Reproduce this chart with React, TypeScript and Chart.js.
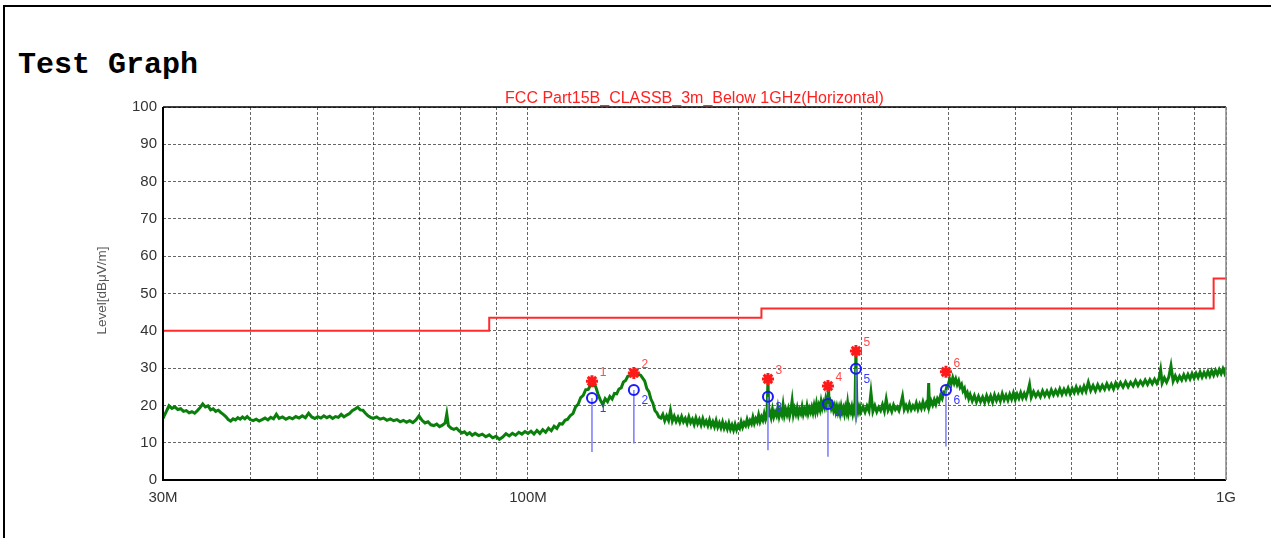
import React, { useEffect, useRef } from "react";
import { Chart, registerables } from "chart.js";

Chart.register(...registerables);

const pageTitle = "Test Graph";
const chartTitle = "FCC Part15B_CLASSB_3m_Below 1GHz(Horizontal)";
const yAxisTitle = "Level[dBμV/m]";

const gridFreqs = [30, 40, 50, 60, 70, 80, 90, 100, 200, 300, 400, 500, 600, 700, 800, 900, 1000];
const xLabelValues = [30, 100, 1000];
const xLabelTexts = ["30M", "100M", "1G"];

const limitFreq = [30, 88, 88, 216, 216, 960, 960, 1000];
const limitLevel = [40, 40, 43.5, 43.5, 46, 46, 54, 54];

const traceLow: [number, number][] = [
  [30, 16.5], [30.3, 18.2], [30.6, 19.9], [30.9, 19.2], [31.2, 19.6], [31.5, 18.9], [31.8, 19.1], [32.1, 18.4],
  [32.4, 18.6], [32.7, 18.0], [33, 18.3], [33.3, 17.9], [33.6, 18.6], [33.9, 19.4], [34.2, 20.4], [34.5, 19.6],
  [34.8, 19.9], [35.1, 18.8], [35.4, 19.1], [35.7, 18.4], [36, 18.7], [36.3, 18.1], [36.6, 17.6], [36.9, 17.0],
  [37.2, 16.2], [37.5, 15.8], [37.8, 16.4], [38.1, 16.1], [38.4, 16.7], [38.7, 16.3], [39, 16.9], [39.3, 16.4],
  [39.6, 17.0], [40, 16.2], [40.4, 15.9], [40.8, 16.3], [41.2, 15.8], [41.6, 16.2], [42, 16.6], [42.4, 16.1],
  [42.8, 16.8], [43.2, 16.4], [43.6, 17.6], [44, 16.5], [44.5, 16.9], [45, 16.3], [45.5, 16.8], [46, 16.4],
  [46.5, 17.0], [47, 16.6], [47.5, 17.2], [48, 16.7], [48.5, 17.9], [49, 16.9], [49.5, 16.5], [50, 17.0],
  [50.5, 16.6], [51, 17.2], [51.5, 16.7], [52, 17.1], [52.5, 16.5], [53, 17.0], [53.5, 16.8], [54, 17.6],
  [54.5, 16.9], [55, 17.4], [55.5, 17.8], [56, 18.6], [56.5, 19.0], [57, 19.5], [57.5, 18.8], [58, 18.7],
  [58.5, 17.9], [59, 17.2], [59.5, 16.8], [60, 16.5], [60.7, 16.9], [61.4, 16.3], [62.1, 16.6], [62.8, 16.0],
  [63.5, 16.4], [64.2, 15.9], [64.9, 16.2], [65.6, 15.6], [66.3, 16.0], [67, 15.5], [67.7, 15.9], [68.4, 15.4],
  [69.1, 16.1], [69.8, 17.2], [70.5, 16.0], [71.2, 15.3], [71.9, 15.6], [72.6, 14.8], [73.3, 14.6], [74, 15.0],
  [74.7, 14.3], [75.4, 14.7], [76.1, 15.3], [76.5, 17.7], [76.9, 14.6], [77.6, 13.9], [78.3, 13.6], [79, 13.9],
  [79.7, 13.2], [80.4, 12.6], [81.1, 12.9], [81.8, 12.2], [82.5, 12.7], [83.2, 12.0], [84, 12.5], [85, 11.9],
  [86, 12.3], [87, 11.6], [88, 12.1], [89, 11.3], [90, 11.7], [91, 10.9], [92, 11.5], [93, 12.4],
  [94, 11.8], [95, 12.5], [96, 12.0], [97, 12.8], [98, 12.3], [99, 13.0], [100, 12.5],
];

const traceMid: [number, number][] = [
  [101, 13.1], [102, 12.3], [103, 13.3], [104, 12.5], [105, 13.5], [106, 12.8], [107, 13.9], [108, 13.2],
  [109, 14.4], [110, 13.8], [111, 15.1], [112, 15.0], [113, 16.0], [114, 16.3], [115, 17.3], [116, 17.8],
  [117, 19.6], [118, 20.3], [119, 22.1], [120, 22.7], [121, 24.2], [122, 24.3], [123, 25.6], [124, 25.5],
  [125, 25.1], [126, 23.0], [127, 21.4], [128, 20.2], [129, 21.8], [130, 21.0], [131, 22.4], [132, 21.7],
  [133, 23.2], [134, 23.1], [135, 24.4], [136, 24.7], [137, 26.3], [138, 26.7], [139, 27.8], [140, 28.0],
  [141, 28.3], [142, 28.5], [143, 28.4], [144, 28.3], [145, 28.1], [146, 27.3], [147, 26.5], [148, 24.5],
  [149, 23.7], [150, 21.7], [151, 20.6], [152, 18.6], [153, 18.0], [154, 16.9], [155, 16.6], [156, 17.6],
  [157, 15.9], [158, 17.2], [159, 16.0], [160, 18.6], [161, 15.8], [162, 17.1], [163, 15.7], [164, 16.8],
  [165, 15.5], [166, 17.0], [167, 15.6], [168, 16.5], [169, 15.2], [170, 16.9], [171, 15.4], [172, 16.3],
  [173, 14.9], [174, 16.6], [175, 15.1], [176, 16.2], [177, 14.8], [178, 16.4], [179, 14.9], [180, 15.8],
  [181, 14.6], [182, 16.1], [183, 14.5], [184, 15.6], [185, 14.3], [186, 15.9], [187, 14.2], [188, 15.3],
  [189, 14.0], [190, 15.5], [191, 13.9], [192, 15.0], [193, 13.7], [194, 15.2], [195, 13.6], [196, 14.7],
  [197, 13.4], [198, 14.9], [199, 13.5], [200, 14.6], [201, 13.9], [202, 15.6], [203, 14.2], [204, 15.3],
  [205, 14.6], [206, 16.2], [207, 14.8], [208, 15.9], [209, 15.1], [210, 16.8], [211, 15.2], [212, 16.4],
  [213, 15.6], [214, 17.4], [215, 15.7], [216, 16.9], [217, 16.0], [218, 17.8], [219, 16.2], [220, 17.3],
  [220.7, 27.0], [221.4, 16.9], [222, 18.3], [223, 16.8], [224, 18.9], [225, 17.0], [226, 18.2], [227, 17.3],
  [228, 19.4], [229, 17.1], [230, 18.6], [231, 17.5], [232, 20.1], [233, 17.4], [234, 18.9], [235, 17.6],
  [236, 19.0], [237, 17.2], [238, 18.7], [239, 21.2], [240, 17.6], [241, 19.1], [242, 17.8], [243, 19.3],
  [244, 17.5], [245, 18.8], [246, 17.9], [247, 19.6], [248, 17.7], [249, 18.9], [250, 18.0], [251, 19.8],
  [252, 17.9], [253, 19.2], [254, 18.2], [255, 19.5], [256, 18.1], [257, 19.9], [258, 18.4], [259, 20.4],
  [260, 18.6], [261, 20.0], [262, 18.9], [263, 21.0], [264, 19.4], [265, 20.7], [266, 19.6], [267, 21.6],
  [268, 20.1], [269, 21.8], [269.5, 25.2], [270, 20.3], [271, 21.0], [272, 19.3], [273, 20.2], [274, 18.7],
  [275, 19.8], [276, 18.3], [277, 19.6], [278, 18.2], [279, 19.4], [280, 17.9], [281, 19.7], [282, 18.2],
  [283, 19.2], [284, 17.8], [285, 19.5], [286, 18.3], [287, 20.6], [288, 18.1], [289, 19.4], [290, 18.4],
  [291, 19.6], [292, 17.9], [293, 19.3], [294, 18.2], [295, 34.6], [296, 18.3], [297, 19.7], [298, 18.4],
  [299, 19.5], [300, 18.3],
];

const traceHigh: [number, number][] = [
  [302, 19.6], [304, 18.2], [306, 19.8], [308, 18.5], [310, 23.4], [312, 18.4], [314, 19.9], [316, 18.3],
  [318, 19.5], [320, 18.6], [322, 20.2], [324, 18.5], [326, 21.6], [328, 18.7], [330, 19.8], [332, 18.4],
  [334, 20.1], [336, 18.9], [338, 19.6], [340, 18.6], [342, 20.3], [344, 22.4], [346, 18.9], [348, 20.0],
  [350, 18.8], [352, 20.4], [354, 18.9], [356, 19.9], [358, 19.1], [360, 20.6], [362, 19.0], [364, 20.3],
  [366, 19.2], [368, 20.9], [370, 19.4], [372, 20.6], [374, 19.6], [375, 26.0], [376, 19.8], [378, 21.2],
  [380, 20.1], [382, 21.5], [384, 20.3], [386, 21.8], [388, 21.0], [390, 22.6], [392, 21.8], [394, 23.5],
  [396, 23.2], [398, 25.0], [400, 25.6], [402, 27.0], [404, 25.8], [406, 27.4], [408, 26.0], [410, 27.1],
  [412, 25.6], [414, 26.6], [416, 24.9], [418, 25.6], [420, 23.9], [422, 24.6], [424, 22.6], [426, 23.4],
  [428, 21.8], [430, 22.9], [433, 21.2], [436, 22.6], [439, 20.9], [442, 22.4], [445, 21.0], [448, 22.2],
  [451, 20.8], [454, 22.6], [457, 21.1], [460, 22.5], [463, 20.9], [466, 22.8], [469, 21.3], [472, 22.6],
  [475, 21.2], [478, 23.1], [481, 21.5], [484, 22.7], [487, 21.4], [490, 23.0], [493, 21.7], [496, 23.3],
  [499, 21.6], [502, 23.0], [505, 21.9], [508, 23.4], [511, 22.0], [514, 23.2], [517, 22.1], [520, 23.6],
  [523, 25.6], [526, 22.2], [530, 23.7], [534, 22.4], [538, 23.5], [542, 22.3], [546, 23.9], [550, 22.6],
  [554, 23.8], [558, 22.5], [562, 24.1], [566, 22.8], [570, 24.0], [574, 22.9], [578, 24.4], [582, 23.0],
  [586, 24.3], [590, 23.2], [594, 24.6], [598, 23.1], [602, 24.5], [606, 23.4], [610, 24.9], [614, 23.5],
  [618, 24.7], [622, 23.6], [626, 25.1], [630, 23.8], [635, 26.2], [640, 24.0], [645, 25.3], [650, 23.9],
  [655, 25.5], [660, 24.2], [665, 25.4], [670, 24.3], [675, 25.8], [680, 24.5], [685, 25.7], [690, 24.4],
  [695, 26.0], [700, 24.8], [706, 26.1], [712, 24.9], [718, 26.3], [724, 25.0], [730, 26.2], [736, 25.2],
  [742, 26.6], [748, 25.3], [754, 26.5], [760, 25.5], [766, 26.8], [772, 25.6], [778, 26.9], [784, 25.8],
  [790, 27.0], [796, 25.9], [802, 27.3], [806, 29.5], [810, 26.0], [816, 27.4], [822, 26.2], [828, 27.6],
  [834, 30.6], [840, 26.5], [846, 27.9], [852, 26.6], [858, 27.8], [864, 26.8], [870, 28.2], [876, 27.0],
  [882, 28.3], [888, 27.1], [894, 28.5], [900, 27.3], [906, 28.6], [912, 27.5], [918, 28.9], [924, 27.6],
  [930, 28.8], [936, 27.8], [942, 29.1], [948, 27.9], [954, 29.3], [960, 28.1], [966, 29.4], [972, 28.3],
  [978, 29.6], [984, 28.5], [990, 29.8], [995, 28.7], [1000, 30.2],
];

const markerIds = ["1", "2", "3", "4", "5", "6"];
const markerFreq = [123.5, 141.8, 220.7, 269.0, 295.0, 397.0];
const peakLevel = [26.5, 28.7, 27.1, 25.2, 34.6, 29.0];
const qpLevel = [22.0, 24.1, 22.3, 20.4, 29.8, 24.1];
const stemBottom = [7.5, 9.8, 8.0, 6.2, 15.5, 9.0];

const SANS = "'Liberation Sans', Arial, sans-serif";

const overlayPlugin = {
  id: "overlay",
  afterDraw(chart: any) {
    const { ctx, chartArea: a, scales } = chart;
    ctx.save();
    ctx.setLineDash([]);
    ctx.strokeStyle = "#000";
    ctx.lineWidth = 2;
    ctx.beginPath();
    ctx.moveTo(a.left, a.top);
    ctx.lineTo(a.left, a.bottom);
    ctx.lineTo(a.right, a.bottom);
    ctx.stroke();
    ctx.lineWidth = 1.5;
    ctx.beginPath();
    ctx.moveTo(a.left, a.top);
    ctx.lineTo(a.right, a.top);
    ctx.stroke();
    ctx.strokeStyle = "#8a8a8a";
    ctx.beginPath();
    ctx.moveTo(a.right, a.top);
    ctx.lineTo(a.right, a.bottom);
    ctx.stroke();

    ctx.fillStyle = "#ff2020";
    ctx.font = `16px ${SANS}`;
    ctx.textAlign = "center";
    ctx.textBaseline = "alphabetic";
    ctx.fillText(chartTitle, (a.left + a.right) / 2, a.top - 4);

    ctx.save();
    ctx.translate(102, (a.top + a.bottom) / 2 - 3);
    ctx.rotate(-Math.PI / 2);
    ctx.fillStyle = "#555";
    ctx.font = `13.5px ${SANS}`;
    ctx.textAlign = "center";
    ctx.textBaseline = "middle";
    ctx.fillText(yAxisTitle, 0, 0);
    ctx.restore();

    ctx.font = `12px ${SANS}`;
    ctx.textAlign = "center";
    ctx.textBaseline = "middle";
    for (let i = 0; i < markerIds.length; i++) {
      const x = scales.x.getPixelForValue(markerFreq[i]);
      const yp = scales.y.getPixelForValue(peakLevel[i]);
      const yq = scales.y.getPixelForValue(qpLevel[i]);
      ctx.fillStyle = "#ff4a4a";
      ctx.fillText(markerIds[i], x + 11, yp - 8);
      ctx.fillStyle = "#3a3aff";
      ctx.fillText(markerIds[i], x + 11, yq + 11);
    }
    ctx.restore();
  },
};

export default function App() {
  const canvasRef = useRef<HTMLCanvasElement | null>(null);

  useEffect(() => {
    const canvas = canvasRef.current;
    if (!canvas) return;

    const trace = [...traceLow, ...traceMid, ...traceHigh].map(([x, y]) => ({ x, y }));
    const limit = limitFreq.map((f, i) => ({ x: f, y: limitLevel[i] }));
    const stems: any[] = [];
    markerFreq.forEach((f, i) => {
      stems.push({ x: f, y: stemBottom[i] });
      stems.push({ x: f, y: qpLevel[i] });
      stems.push({ x: f, y: null });
    });
    const qp = markerFreq.map((f, i) => ({ x: f, y: qpLevel[i] }));
    const pk = markerFreq.map((f, i) => ({ x: f, y: peakLevel[i] }));

    const gridColor = "rgba(0,0,0,0.6)";

    const chart = new Chart(canvas, {
      type: "line",
      data: {
        datasets: [
          {
            label: "Peak",
            data: pk,
            showLine: false,
            pointStyle: "star",
            pointRadius: 6,
            borderColor: "#ff1a1a",
            backgroundColor: "#ff1a1a",
            pointBorderWidth: 3,
            order: 1,
          },
          {
            label: "QP",
            data: qp,
            showLine: false,
            pointStyle: "circle",
            pointRadius: 5,
            borderColor: "#1a1aff",
            backgroundColor: "rgba(0,0,0,0)",
            pointBorderWidth: 2,
            order: 2,
          },
          {
            label: "Stems",
            data: stems,
            borderColor: "#7a7aff",
            borderWidth: 1.5,
            pointRadius: 0,
            spanGaps: false,
            order: 3,
          },
          {
            label: "Limit",
            data: limit,
            borderColor: "#ff2a2a",
            borderWidth: 2,
            pointRadius: 0,
            tension: 0,
            order: 5,
          },
          {
            label: "Trace",
            data: trace,
            borderColor: "#0b7f0b",
            borderWidth: 3,
            pointRadius: 0,
            tension: 0,
            order: 4,
          },
        ],
      },
      options: {
        responsive: false,
        animation: false,
        events: [],
        layout: { padding: { left: 80, right: 45, top: 107, bottom: 0 } },
        plugins: {
          legend: { display: false },
          title: { display: false },
          tooltip: { enabled: false },
        },
        scales: {
          x: {
            type: "logarithmic",
            min: 30,
            max: 1000,
            afterBuildTicks: (s: any) => {
              s.ticks = gridFreqs.map((v) => ({ value: v }));
            },
            afterFit: (s: any) => {
              s.height = 58;
            },
            ticks: {
              autoSkip: false,
              maxRotation: 0,
              minRotation: 0,
              padding: 9,
              color: "#333",
              font: { size: 15, family: SANS },
              callback: (v: any) => {
                const i = xLabelValues.indexOf(Number(v));
                return i >= 0 ? xLabelTexts[i] : "";
              },
            },
            grid: { color: gridColor, lineWidth: 1, drawTicks: false },
            border: { display: false, dash: [3, 2] },
          },
          y: {
            type: "linear",
            min: 0,
            max: 100,
            afterFit: (s: any) => {
              s.width = 83;
            },
            ticks: {
              stepSize: 10,
              padding: 6,
              color: "#333",
              font: { size: 15, family: SANS },
            },
            grid: { color: gridColor, lineWidth: 1, drawTicks: false },
            border: { display: false, dash: [3, 2] },
          },
        },
      },
      plugins: [overlayPlugin],
    } as any);

    return () => chart.destroy();
  }, []);

  return (
    <div style={{ position: "absolute", left: 0, top: 0, width: 1271, height: 538, background: "#fff" }}>
      <div style={{ position: "absolute", left: 3, top: 5, width: 1268, height: 2, background: "#000" }} />
      <div style={{ position: "absolute", left: 3, top: 5, width: 2, height: 533, background: "#000" }} />
      <div
        style={{
          position: "absolute",
          left: 18,
          top: 51,
          fontFamily: "'Courier New', 'Liberation Mono', monospace",
          fontWeight: "bold",
          fontSize: 30,
          lineHeight: "29px",
          color: "#000",
          whiteSpace: "nowrap",
        }}
      >
        {pageTitle}
      </div>
      <canvas ref={canvasRef} width={1271} height={538} style={{ position: "absolute", left: 0, top: 0 }} />
    </div>
  );
}
